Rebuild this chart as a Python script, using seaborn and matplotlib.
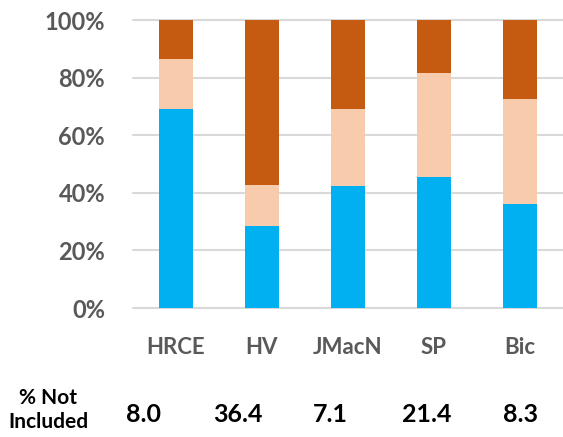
import pandas as pd
import seaborn as sns
from matplotlib import pyplot as plt
from matplotlib import transforms

sites = ['HRCE', 'HV', 'JMacN', 'SP', 'Bic']
blue_pct = [69.2, 28.6, 42.4, 45.5, 36.1]
peach_pct = [17.3, 14.1, 26.7, 36.1, 36.6]
orange_pct = [13.5, 57.3, 30.9, 18.4, 27.3]
not_included = ['8.0', '36.4', '7.1', '21.4', '8.3']

sns.set_style('white')
plt.rcParams['font.family'] = ['Lato', 'DejaVu Sans']

df = pd.DataFrame({'site': sites, 'blue': blue_pct, 'peach': peach_pct, 'orange': orange_pct})
df['lvl2'] = df['blue'] + df['peach']
df['lvl3'] = df['lvl2'] + df['orange']

fig = plt.figure(figsize=(5.63, 4.37), dpi=100)
ax = fig.add_axes([0.236, 0.295, 0.764, 0.659])

sns.barplot(ax=ax, data=df, x='site', y='lvl3', order=sites, color='#C55A11', width=0.4, saturation=1, linewidth=0)
sns.barplot(ax=ax, data=df, x='site', y='lvl2', order=sites, color='#F8CBAD', width=0.4, saturation=1, linewidth=0)
sns.barplot(ax=ax, data=df, x='site', y='blue', order=sites, color='#00B0F0', width=0.4, saturation=1, linewidth=0)

ax.set_xlim(-0.5, len(sites) - 0.5)
ax.set_ylim(0, 100)
ax.set_yticks(range(0, 101, 20))
ax.set_yticklabels([f'{v}%' for v in range(0, 101, 20)])
ax.set_xlabel('')
ax.set_ylabel('')
ax.set_axisbelow(True)
ax.yaxis.grid(True, color='#D9D9D9', linewidth=1.5)
for gl in ax.get_ygridlines():
    gl.set_clip_on(False)
sns.despine(ax=ax, left=True, bottom=True)
ax.tick_params(axis='y', length=0, pad=20, labelsize=17, labelcolor='#595959')
ax.tick_params(axis='x', length=0, pad=21, labelsize=16, labelcolor='#595959')
for lab in ax.get_xticklabels() + ax.get_yticklabels():
    lab.set_fontweight('bold')

# the "% Not Included" row sits a little off the bar centres in the original
row_x = [143.5, 237.5, 330, 427, 520]
for px, v in zip(row_x, not_included):
    fig.text(px / 563, 1 - 414 / 437, v, ha='center', va='center',
             fontsize=18, fontweight='bold', color='black')
fig.text(48 / 563, 1 - 410 / 437, '% Not\nIncluded', ha='center', va='center',
         fontsize=15, fontweight='bold', color='black', linespacing=1.2)

fig.savefig('out.png', dpi=100)
